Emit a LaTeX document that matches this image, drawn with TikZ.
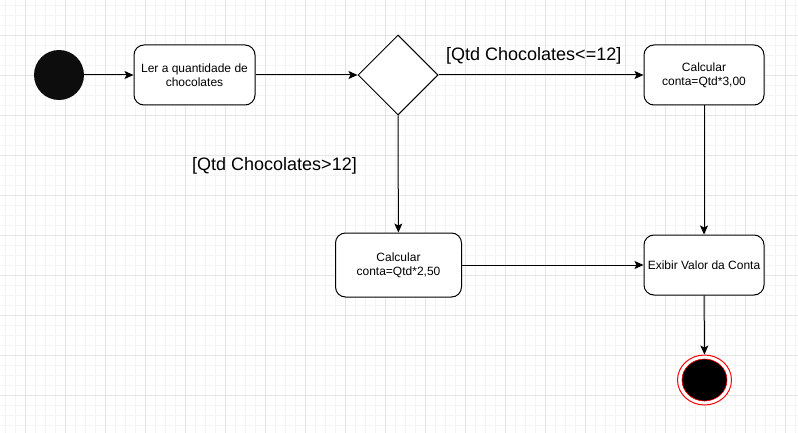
\documentclass[tikz,border=0pt]{standalone}
\usepackage{fontspec}
\setmainfont{Liberation Sans}
\usetikzlibrary{arrows.meta,shapes.geometric}
\definecolor{gridminor}{RGB}{244,244,244}
\definecolor{gridmajor}{RGB}{228,228,228}
\definecolor{nearblack}{RGB}{13,13,13}
\tikzset{
  actbox/.style={draw=black, line width=1pt, rounded corners=10pt, fill=white, minimum width=121pt, minimum height=60pt, align=center, inner sep=0pt, font=\fontsize{12}{14}\selectfont},
  flow/.style={draw=black, line width=1pt, -{Stealth[length=9pt,width=8pt,inset=2pt]}},
  guard/.style={font=\fontsize{18}{21}\selectfont, inner sep=0pt},
}
\begin{document}
\begin{tikzpicture}[x=1pt,y=-1pt]
\useasboundingbox (0,0) rectangle (798,433);
\fill[white] (0,0) rectangle (798,433);
% grid
\foreach \gx in {5,15,...,795} \draw[gridminor, line width=0.8pt] (\gx,0) -- (\gx,433);
\foreach \gy in {5,15,...,425} \draw[gridminor, line width=0.8pt] (0,\gy) -- (798,\gy);
\foreach \gx in {25,65,...,785} \draw[gridmajor, line width=0.8pt] (\gx,0) -- (\gx,433);
\foreach \gy in {35,75,...,435} \draw[gridmajor, line width=0.8pt] (0,\gy) -- (798,\gy);
% nodes
\node[circle, fill=nearblack, minimum size=50pt, inner sep=0pt] (start) at (59,75) {};
\node[actbox] (ler) at (194.5,75) {Ler a quantidade de\\chocolates};
\node[diamond, draw=black, line width=1pt, fill=white, minimum width=80pt, minimum height=80pt, inner sep=0pt, aspect=1] (dec) at (398,75) {};
\node[actbox, minimum width=120pt] (c300) at (704,75) {Calcular\\conta=Qtd*3,00};
\node[actbox, minimum width=126pt, minimum height=64pt] (c250) at (398.5,265) {Calcular\\conta=Qtd*2,50};
\node[actbox, minimum width=120pt] (exib) at (704,265) {Exibir Valor da Conta};
\node[ellipse, draw=red, line width=1pt, fill=white, minimum width=54pt, minimum height=50pt, inner sep=0pt] (fim) at (704.5,380) {};
\node[ellipse, draw=red, line width=0.6pt, fill=black, minimum width=45pt, minimum height=42pt, inner sep=0pt] (fimin) at (704.5,380) {};
% guards
\node[guard, anchor=west] (g1) at (446,56) {[Qtd Chocolates<=12]};
\node[guard, anchor=west] (g2) at (192,166) {[Qtd Chocolates>12]};
% connectors
\draw[flow] (start) -- (ler);
\draw[flow] (ler) -- (dec.west);
\draw[flow] (dec.east) -- (c300);
\draw[flow] (dec.south) -- (c250);
\draw[flow] (c300) -- (exib);
\draw[flow] (c250) -- (exib);
\draw[flow] (exib) -- (fim);
\end{tikzpicture}
\end{document}
